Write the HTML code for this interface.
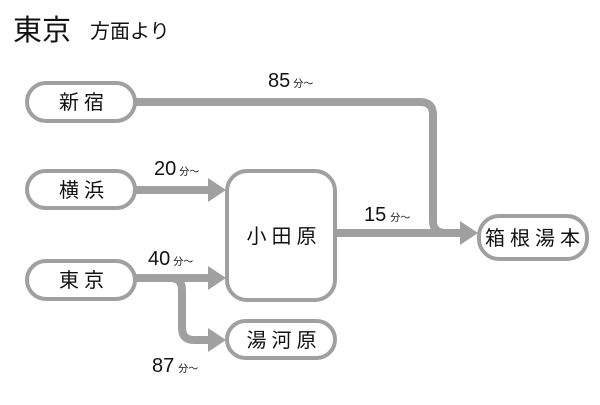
<!DOCTYPE html>
<html><head><meta charset="utf-8"><style>
body{margin:0;background:#fff;}
svg text{font-family:"Liberation Sans","Noto Sans CJK JP",sans-serif;fill:#111;}
</style></head><body>
<svg width="600" height="400" viewBox="0 0 600 400" xmlns="http://www.w3.org/2000/svg">
<text x="13" y="40" font-size="29">東京</text>
<text x="90" y="38" font-size="20">方面より</text>
<g fill="none" stroke="#a0a0a0" stroke-width="8" stroke-linejoin="round">
<path d="M135 102 H420 Q433 102 433 115 V221 Q433 233 446 233 H462"/>
<path d="M336 233 H462"/>
<path d="M135 190 H210"/>
<path d="M135 278 H210"/>
<path d="M170 278 Q182 278 182 290 V328 Q182 340 194 340 H210"/>
</g>
<g fill="#a0a0a0">
<polygon points="478,233 460,221 460,245"/>
<polygon points="226,190 208,178 208,202"/>
<polygon points="226,278 208,266 208,290"/>
<polygon points="226,340 208,328 208,352"/>
</g>
<g fill="#fff" stroke="#a0a0a0" stroke-width="4">
<rect x="27" y="83" width="108" height="38" rx="19"/>
<rect x="27" y="171" width="108" height="37" rx="18.5"/>
<rect x="27" y="261" width="108" height="38" rx="19"/>
<rect x="227" y="171" width="108" height="129" rx="20"/>
<rect x="227" y="321" width="108" height="37" rx="18.5"/>
<rect x="479" y="216" width="108" height="43" rx="20"/>
</g>
<g font-size="20" text-anchor="middle" letter-spacing="5">
<text x="84" y="109">新宿</text>
<text x="84" y="197">横浜</text>
<text x="84" y="287">東京</text>
<text x="284" y="243">小田原</text>
<text x="284" y="347">湯河原</text>
<text x="535" y="245">箱根湯本</text>
</g>
<g font-size="20">
<text x="268" y="87">85<tspan font-size="10" dx="3">分〜</tspan></text>
<text x="154" y="175">20<tspan font-size="10" dx="3">分〜</tspan></text>
<text x="148" y="265">40<tspan font-size="10" dx="3">分〜</tspan></text>
<text x="152" y="372">87<tspan font-size="10" dx="4">分〜</tspan></text>
<text x="364" y="221">15<tspan font-size="10" dx="4">分〜</tspan></text>
</g>
</svg>
</body></html>
